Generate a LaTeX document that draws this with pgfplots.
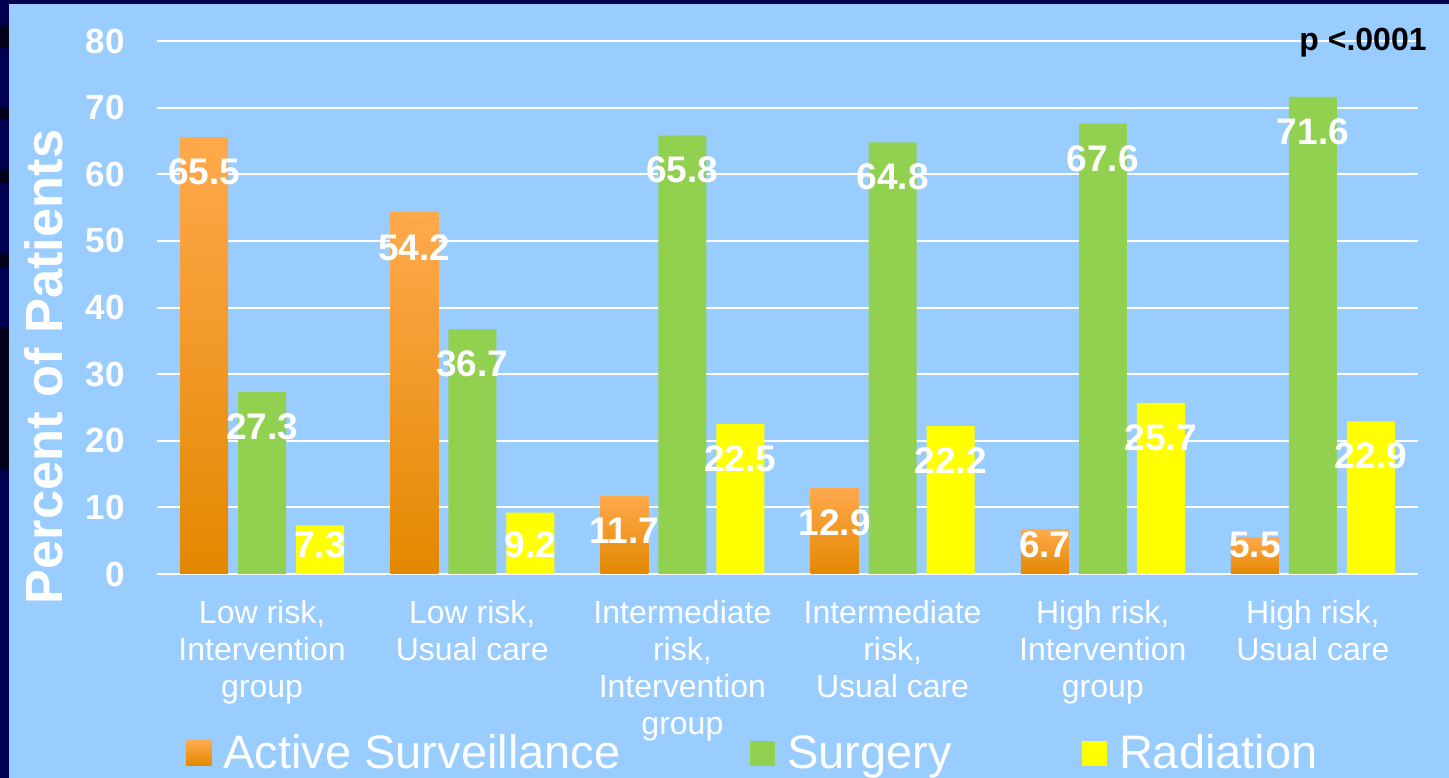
\documentclass[border=0pt]{standalone}
\usepackage{pgfplots}
\usepackage{pgfplotstable}
\pgfplotsset{compat=1.18}
\usepackage{fontspec}
\setmainfont{Liberation Sans}

\definecolor{slidebg}{HTML}{99CCFF}
\definecolor{slidenavy}{HTML}{000050}
\definecolor{slidedark}{HTML}{000018}
\definecolor{asTop}{HTML}{FFA94D}
\definecolor{asMid}{HTML}{FF9900}
\definecolor{asBot}{HTML}{E38800}
\definecolor{surgery}{HTML}{92D050}
\definecolor{radiation}{HTML}{FFFF00}

% percent of patients by group: active surveillance, surgery, radiation
\pgfplotstableread{
x  as    surg  rad
0  65.5  27.3  7.3
1  54.2  36.7  9.2
2  11.7  65.8  22.5
3  12.9  64.8  22.2
4  6.7   67.6  25.7
5  5.5   71.6  22.9
}\treatment

\pgfplotsset{asbar/.style={draw=none, top color=asTop, middle color=asMid, bottom color=asBot}}

\begin{document}
\begin{tikzpicture}
\useasboundingbox (0,0) rectangle (724.5bp,389bp);
% slide background and frame
\fill[slidebg] (0,0) rectangle (724.5bp,389bp);
\fill[slidenavy] (0,0) rectangle (4.5bp,389bp);
\fill[slidenavy] (0,387bp) rectangle (724.5bp,389bp);
\fill[slidedark] (0,365bp) rectangle (4.5bp,376.5bp);
\fill[slidedark] (0,329bp) rectangle (4.5bp,335.5bp);
\fill[slidedark] (0,297.5bp) rectangle (4.5bp,304bp);
\fill[slidedark] (0,255.5bp) rectangle (4.5bp,262.5bp);
\fill[slidedark] (0,154bp) rectangle (4.5bp,225.5bp);

\begin{axis}[
  at={(78.5bp,102bp)}, anchor=south west,
  scale only axis, width=630.5bp, height=266.5bp,
  xmin=-0.5, xmax=5.5, ymin=0, ymax=80,
  ybar, bar width=24bp,
  axis line style={draw=none},
  major tick length=0pt,
  ymajorgrids, grid style={white, line width=1bp},
  ytick={0,10,...,80},
  xtick={0,...,5},
  xticklabels={{Low risk,\\Intervention\\group},
               {Low risk,\\Usual care},
               {Intermediate\\risk,\\Intervention\\group},
               {Intermediate\\risk,\\Usual care},
               {High risk,\\Intervention\\group},
               {High risk,\\Usual care}},
  /pgf/number format/assume math mode=true,
  yticklabel style={font=\bfseries\fontsize{17.5bp}{20bp}\selectfont,
    text=white, inner sep=0pt, anchor=east, xshift=-16bp},
  xticklabel style={font=\fontsize{16bp}{18.5bp}\selectfont,
    text=white, align=center, inner sep=0pt, anchor=north, yshift=-13bp},
  nodes near coords,
  visualization depends on={y \as \rawy},
  every node near coord/.append style={
    font=\bfseries\fontsize{18.5bp}{20bp}\selectfont,
    text=white, anchor=center, inner sep=0pt,
    yshift={max(-5.2,4.35-\rawy)*3.344}},
  legend columns=3,
  legend style={draw=none, fill=none, at={(0.023,-0.336)}, anchor=west,
    inner sep=0pt, font=\fontsize{23.5bp}{26bp}\selectfont, text=white,
    nodes={inner sep=0pt, anchor=base west},
    /tikz/every odd column/.append style={column sep=6bp},
    /tikz/every even column/.append style={column sep=65bp}},
  legend image code/.code={\path[#1,draw=none] (0bp,1.5bp) rectangle (12.5bp,14bp);},
]
% one orange bar per group, so that each bar gets its own gradient
\pgfplotsinvokeforeach{0,...,5}{
  \addplot[asbar, bar shift=-29bp, forget plot, restrict x to domain=#1:#1]
    table[x=x, y=as] {\treatment};
}
\addlegendimage{asbar}
\addlegendentry{Active Surveillance}
\addplot[draw=none, fill=surgery, bar shift=0bp] table[x=x, y=surg] {\treatment};
\addlegendentry{Surgery}
\addplot[draw=none, fill=radiation, bar shift=29bp] table[x=x, y=rad] {\treatment};
\addlegendentry{Radiation}
\end{axis}

\node[rotate=90, inner sep=0pt, text=white,
  font=\bfseries\fontsize{26.2bp}{30bp}\selectfont] at (22bp,205.5bp) {Percent of Patients};
\node[anchor=base east, inner sep=0pt,
  font=\bfseries\fontsize{16bp}{19bp}\selectfont] at (713.5bp,363.5bp) {p <.0001};
\end{tikzpicture}
\end{document}
